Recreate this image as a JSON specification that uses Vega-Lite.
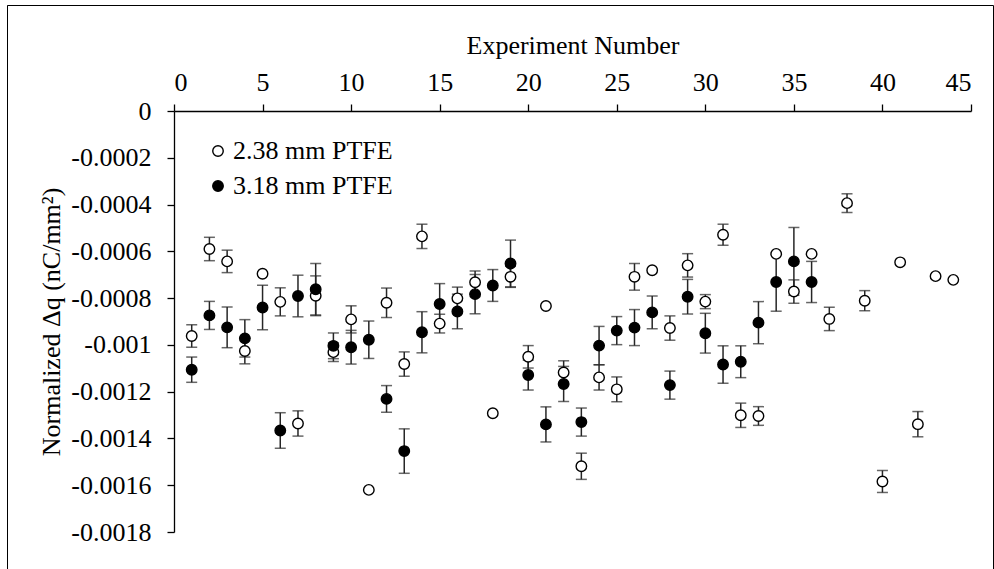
{
  "$schema": "https://vega.github.io/schema/vega-lite/v6.json",
  "autosize": {"type": "none"},
  "padding": {"left": 7, "top": 5, "right": 1, "bottom": 0},
  "width": 986,
  "height": 564,
  "config": {
    "view": {"stroke": "black", "strokeWidth": 1, "fill": "white", "strokeDash": [1550, 986, 580, 0]},
    "font": "Liberation Serif",
    "axis": {
      "grid": false,
      "domainColor": "black",
      "domainWidth": 1.3,
      "tickColor": "black",
      "tickWidth": 1.3,
      "tickSize": 7,
      "labelFont": "Liberation Serif",
      "labelFontSize": 26,
      "labelColor": "black",
      "titleFont": "Liberation Serif",
      "titleFontSize": 26,
      "titleFontWeight": "normal",
      "titleColor": "black"
    }
  },
  "data": {
    "values": [
      {"n": 1, "s": "2.38 mm PTFE", "v": -0.000962, "lo": -0.00101, "hi": -0.000914},
      {"n": 2, "s": "2.38 mm PTFE", "v": -0.00059, "lo": -0.00064, "hi": -0.00054},
      {"n": 3, "s": "2.38 mm PTFE", "v": -0.000643, "lo": -0.000691, "hi": -0.000595},
      {"n": 4, "s": "2.38 mm PTFE", "v": -0.001026, "lo": -0.001081, "hi": -0.000971},
      {"n": 5, "s": "2.38 mm PTFE", "v": -0.000696, "lo": null, "hi": null},
      {"n": 6, "s": "2.38 mm PTFE", "v": -0.000816, "lo": -0.000876, "hi": -0.000756},
      {"n": 7, "s": "2.38 mm PTFE", "v": -0.001336, "lo": -0.00139, "hi": -0.001282},
      {"n": 8, "s": "2.38 mm PTFE", "v": -0.00079, "lo": -0.000875, "hi": -0.000705},
      {"n": 9, "s": "2.38 mm PTFE", "v": -0.001031, "lo": -0.001071, "hi": -0.000991},
      {"n": 10, "s": "2.38 mm PTFE", "v": -0.000891, "lo": -0.000949, "hi": -0.000833},
      {"n": 11, "s": "2.38 mm PTFE", "v": -0.00162, "lo": null, "hi": null},
      {"n": 12, "s": "2.38 mm PTFE", "v": -0.00082, "lo": -0.000883, "hi": -0.000757},
      {"n": 13, "s": "2.38 mm PTFE", "v": -0.001082, "lo": -0.001134, "hi": -0.00103},
      {"n": 14, "s": "2.38 mm PTFE", "v": -0.000536, "lo": -0.000588, "hi": -0.000484},
      {"n": 15, "s": "2.38 mm PTFE", "v": -0.000909, "lo": -0.000949, "hi": -0.000869},
      {"n": 16, "s": "2.38 mm PTFE", "v": -0.000801, "lo": -0.000849, "hi": -0.000753},
      {"n": 17, "s": "2.38 mm PTFE", "v": -0.000732, "lo": -0.00078, "hi": -0.000684},
      {"n": 18, "s": "2.38 mm PTFE", "v": -0.001292, "lo": null, "hi": null},
      {"n": 19, "s": "2.38 mm PTFE", "v": -0.000709, "lo": -0.000754, "hi": -0.000664},
      {"n": 20, "s": "2.38 mm PTFE", "v": -0.001051, "lo": -0.001099, "hi": -0.001003},
      {"n": 21, "s": "2.38 mm PTFE", "v": -0.000834, "lo": null, "hi": null},
      {"n": 22, "s": "2.38 mm PTFE", "v": -0.001118, "lo": -0.001168, "hi": -0.001068},
      {"n": 23, "s": "2.38 mm PTFE", "v": -0.001519, "lo": -0.001575, "hi": -0.001463},
      {"n": 24, "s": "2.38 mm PTFE", "v": -0.001139, "lo": -0.001193, "hi": -0.001085},
      {"n": 25, "s": "2.38 mm PTFE", "v": -0.00119, "lo": -0.001243, "hi": -0.001137},
      {"n": 26, "s": "2.38 mm PTFE", "v": -0.000709, "lo": -0.000766, "hi": -0.000652},
      {"n": 27, "s": "2.38 mm PTFE", "v": -0.000681, "lo": null, "hi": null},
      {"n": 28, "s": "2.38 mm PTFE", "v": -0.000928, "lo": -0.00098, "hi": -0.000876},
      {"n": 29, "s": "2.38 mm PTFE", "v": -0.00066, "lo": -0.00071, "hi": -0.00061},
      {"n": 30, "s": "2.38 mm PTFE", "v": -0.000815, "lo": -0.000845, "hi": -0.000785},
      {"n": 31, "s": "2.38 mm PTFE", "v": -0.000529, "lo": -0.000574, "hi": -0.000484},
      {"n": 32, "s": "2.38 mm PTFE", "v": -0.001301, "lo": -0.001353, "hi": -0.001249},
      {"n": 33, "s": "2.38 mm PTFE", "v": -0.001304, "lo": -0.001344, "hi": -0.001264},
      {"n": 34, "s": "2.38 mm PTFE", "v": -0.000611, "lo": null, "hi": null},
      {"n": 35, "s": "2.38 mm PTFE", "v": -0.000772, "lo": -0.000822, "hi": -0.000722},
      {"n": 36, "s": "2.38 mm PTFE", "v": -0.000611, "lo": null, "hi": null},
      {"n": 37, "s": "2.38 mm PTFE", "v": -0.000889, "lo": -0.000939, "hi": -0.000839},
      {"n": 38, "s": "2.38 mm PTFE", "v": -0.000394, "lo": -0.000434, "hi": -0.000354},
      {"n": 39, "s": "2.38 mm PTFE", "v": -0.000811, "lo": -0.000854, "hi": -0.000768},
      {"n": 40, "s": "2.38 mm PTFE", "v": -0.001584, "lo": -0.001631, "hi": -0.001537},
      {"n": 41, "s": "2.38 mm PTFE", "v": -0.000647, "lo": null, "hi": null},
      {"n": 42, "s": "2.38 mm PTFE", "v": -0.001339, "lo": -0.001393, "hi": -0.001285},
      {"n": 43, "s": "2.38 mm PTFE", "v": -0.000706, "lo": null, "hi": null},
      {"n": 44, "s": "2.38 mm PTFE", "v": -0.000722, "lo": null, "hi": null},
      {"n": 1, "s": "3.18 mm PTFE", "v": -0.001106, "lo": -0.00116, "hi": -0.001052},
      {"n": 2, "s": "3.18 mm PTFE", "v": -0.000874, "lo": -0.000934, "hi": -0.000814},
      {"n": 3, "s": "3.18 mm PTFE", "v": -0.000925, "lo": -0.001012, "hi": -0.000838},
      {"n": 4, "s": "3.18 mm PTFE", "v": -0.000972, "lo": -0.001052, "hi": -0.000892},
      {"n": 5, "s": "3.18 mm PTFE", "v": -0.00084, "lo": -0.000935, "hi": -0.000745},
      {"n": 6, "s": "3.18 mm PTFE", "v": -0.001366, "lo": -0.001442, "hi": -0.00129},
      {"n": 7, "s": "3.18 mm PTFE", "v": -0.000791, "lo": -0.00088, "hi": -0.000702},
      {"n": 8, "s": "3.18 mm PTFE", "v": -0.000762, "lo": -0.000872, "hi": -0.000652},
      {"n": 9, "s": "3.18 mm PTFE", "v": -0.001004, "lo": -0.001059, "hi": -0.000949},
      {"n": 10, "s": "3.18 mm PTFE", "v": -0.00101, "lo": -0.001082, "hi": -0.000938},
      {"n": 11, "s": "3.18 mm PTFE", "v": -0.000978, "lo": -0.001058, "hi": -0.000898},
      {"n": 12, "s": "3.18 mm PTFE", "v": -0.001231, "lo": -0.001288, "hi": -0.001174},
      {"n": 13, "s": "3.18 mm PTFE", "v": -0.001454, "lo": -0.001549, "hi": -0.001359},
      {"n": 14, "s": "3.18 mm PTFE", "v": -0.000946, "lo": -0.001034, "hi": -0.000858},
      {"n": 15, "s": "3.18 mm PTFE", "v": -0.000825, "lo": -0.000912, "hi": -0.000738},
      {"n": 16, "s": "3.18 mm PTFE", "v": -0.000857, "lo": -0.000931, "hi": -0.000783},
      {"n": 17, "s": "3.18 mm PTFE", "v": -0.000783, "lo": -0.000867, "hi": -0.000699},
      {"n": 18, "s": "3.18 mm PTFE", "v": -0.000746, "lo": -0.000814, "hi": -0.000678},
      {"n": 19, "s": "3.18 mm PTFE", "v": -0.000652, "lo": -0.000752, "hi": -0.000552},
      {"n": 20, "s": "3.18 mm PTFE", "v": -0.001129, "lo": -0.001193, "hi": -0.001065},
      {"n": 21, "s": "3.18 mm PTFE", "v": -0.00134, "lo": -0.001415, "hi": -0.001265},
      {"n": 22, "s": "3.18 mm PTFE", "v": -0.001167, "lo": -0.001242, "hi": -0.001092},
      {"n": 23, "s": "3.18 mm PTFE", "v": -0.00133, "lo": -0.00139, "hi": -0.00127},
      {"n": 24, "s": "3.18 mm PTFE", "v": -0.001003, "lo": -0.001085, "hi": -0.000921},
      {"n": 25, "s": "3.18 mm PTFE", "v": -0.000939, "lo": -0.000999, "hi": -0.000879},
      {"n": 26, "s": "3.18 mm PTFE", "v": -0.000926, "lo": -0.001003, "hi": -0.000849},
      {"n": 27, "s": "3.18 mm PTFE", "v": -0.000861, "lo": -0.000931, "hi": -0.000791},
      {"n": 28, "s": "3.18 mm PTFE", "v": -0.001172, "lo": -0.001232, "hi": -0.001112},
      {"n": 29, "s": "3.18 mm PTFE", "v": -0.000794, "lo": -0.000868, "hi": -0.00072},
      {"n": 30, "s": "3.18 mm PTFE", "v": -0.00095, "lo": -0.001035, "hi": -0.000865},
      {"n": 31, "s": "3.18 mm PTFE", "v": -0.001084, "lo": -0.001164, "hi": -0.001004},
      {"n": 32, "s": "3.18 mm PTFE", "v": -0.001072, "lo": -0.00114, "hi": -0.001004},
      {"n": 33, "s": "3.18 mm PTFE", "v": -0.000905, "lo": -0.000995, "hi": -0.000815},
      {"n": 34, "s": "3.18 mm PTFE", "v": -0.000731, "lo": -0.000856, "hi": -0.000606},
      {"n": 35, "s": "3.18 mm PTFE", "v": -0.000643, "lo": -0.000788, "hi": -0.000498},
      {"n": 36, "s": "3.18 mm PTFE", "v": -0.000731, "lo": -0.000819, "hi": -0.000643}
    ]
  },
  "encoding": {
    "x": {
      "field": "n",
      "type": "quantitative",
      "scale": {"domain": [0, 45], "range": [167, 964], "nice": false, "zero": false},
      "axis": {
        "orient": "top",
        "offset": -106,
        "values": [0, 5, 10, 15, 20, 25, 30, 35, 40, 45],
        "title": "Experiment Number",
        "labelPadding": 9,
        "titlePadding": 11
      }
    }
  },
  "layer": [
    {
      "transform": [{"filter": "datum.lo != null"}],
      "mark": {"type": "rule", "stroke": "#262626", "strokeWidth": 1.5},
      "encoding": {
        "y": {
          "field": "lo",
          "type": "quantitative",
          "scale": {"domain": [-0.0018, 0], "range": [527, 106], "nice": false, "zero": false},
          "axis": {
            "orient": "left",
            "offset": -167,
            "values": [0, -0.0002, -0.0004, -0.0006, -0.0008, -0.001, -0.0012, -0.0014, -0.0016, -0.0018],
            "labelExpr": "'' + datum.value",
            "title": "Normalized Δq (nC/mm²)",
            "labelPadding": 16,
            "titlePadding": 6
          }
        },
        "y2": {"field": "hi"}
      }
    },
    {
      "transform": [{"filter": "datum.lo != null"}],
      "mark": {"type": "tick", "orient": "horizontal", "size": 11, "thickness": 1.5, "color": "#262626"},
      "encoding": {"y": {"field": "lo", "type": "quantitative"}}
    },
    {
      "transform": [{"filter": "datum.hi != null"}],
      "mark": {"type": "tick", "orient": "horizontal", "size": 11, "thickness": 1.5, "color": "#262626"},
      "encoding": {"y": {"field": "hi", "type": "quantitative"}}
    },
    {
      "mark": {"type": "point", "shape": "circle", "filled": true, "size": 110, "stroke": "black", "strokeWidth": 1.4, "opacity": 1},
      "encoding": {
        "y": {"field": "v", "type": "quantitative"},
        "fill": {
          "field": "s",
          "type": "nominal",
          "scale": {"domain": ["2.38 mm PTFE", "3.18 mm PTFE"], "range": ["white", "black"]},
          "legend": {
            "orient": "none",
            "legendX": 198,
            "legendY": 133,
            "title": null,
            "padding": 0,
            "symbolType": "circle",
            "symbolSize": 110,
            "symbolStrokeColor": "black",
            "symbolStrokeWidth": 1.4,
            "labelFont": "Liberation Serif",
            "labelFontSize": 26,
            "labelColor": "black",
            "labelOffset": 2,
            "rowPadding": 9
          }
        }
      }
    }
  ]
}
